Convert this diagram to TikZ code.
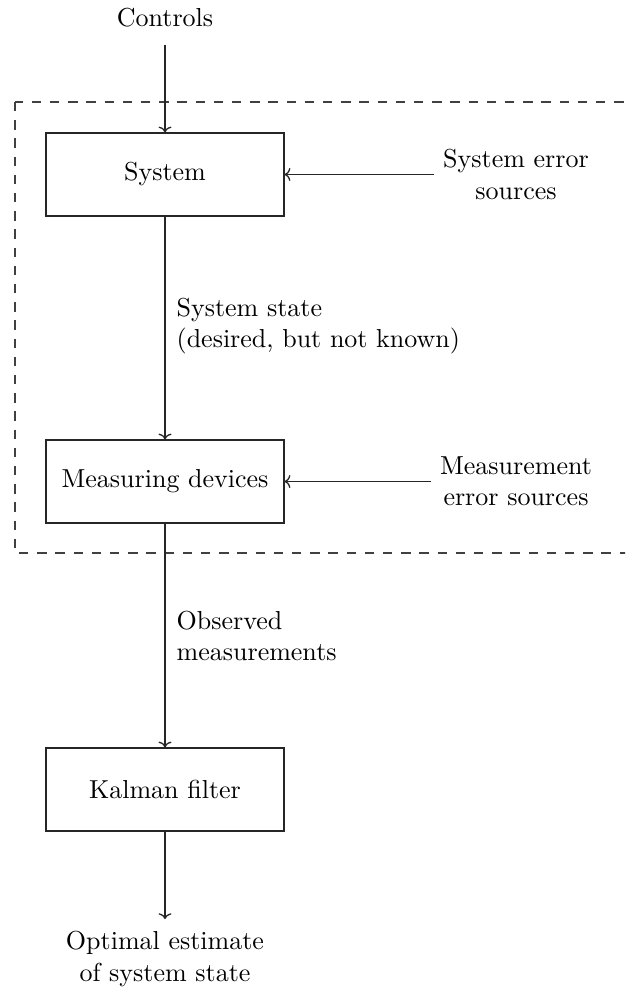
\documentclass[tikz,border=0pt]{standalone}
\usetikzlibrary{arrows.meta}
\begin{document}
\begin{tikzpicture}[x=0.3846pt, y=-0.3846pt,
  line width=0.5pt,
  block/.style={draw=black!85, minimum width=238*0.3846pt, minimum height=83*0.3846pt, inner sep=0pt},
  lbl/.style={align=center, inner sep=3.33pt},
  side/.style={align=left, anchor=west, inner sep=0pt},
  flow/.style={draw=black!85, -{To[length=2.2pt,width=5pt]}},
  boundary/.style={draw=black!75, dash pattern=on 3.6pt off 3.4pt}]
  \clip (0,0) rectangle (625,991);
  % blocks
  \node[block] (sys)  at (165,174.5) {System};
  \node[block] (meas) at (165,481.5) {Measuring devices};
  \node[block] (kal)  at (165,789.5) {Kalman filter};
  % external signals
  \node[lbl] (ctrl) at (165,18) {Controls};
  \node[lbl] (syserr) at (516,174.5) {System error\\sources};
  \node[lbl] (measerr) at (516,481.5) {Measurement\\error sources};
  \node[lbl] (out) at (165,959) {Optimal estimate\\of system state};
  \coordinate (outtip) at (165,919);
  % labels along the flow
  \node[side] (statelbl) at (176,326) {System state\\(desired, but not known)};
  \node[side] (obslbl) at (176,636) {Observed\\measurements};
  % region of the physical process
  \path[boundary] (15,102) rectangle (660,553);
  % connectors
  \draw[flow, shorten <=3pt] (ctrl.south) -- (sys.north);
  \draw[flow] (syserr.west) -- (sys.east);
  \draw[flow] (sys.south) -- (meas.north);
  \draw[flow] (measerr.west) -- (meas.east);
  \draw[flow] (meas.south) -- (kal.north);
  \draw[flow] (kal.south) -- (outtip);
\end{tikzpicture}
\end{document}
